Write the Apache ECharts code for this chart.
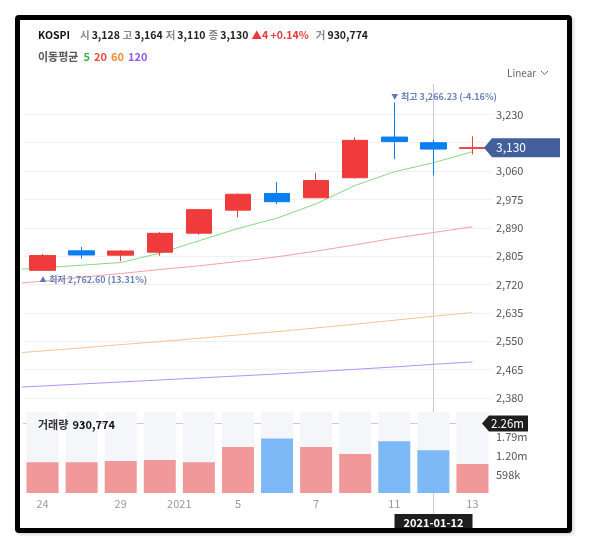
<!DOCTYPE html>
<html>
<head>
<meta charset="utf-8">
<script src="https://cdn.jsdelivr.net/npm/echarts@6/dist/echarts.min.js"></script>
<style>
  body { margin: 0; background: #fff; }
  #chart { position: absolute; left: 0; top: 0; width: 589px; height: 549px; }
  #frame { position: absolute; left: 15px; top: 15px; width: 547px; height: 508px;
           border: 5px solid #000; border-radius: 4px; pointer-events: none;
           box-shadow: 2px 2px 3px rgba(0,0,0,0.15); }
</style>
</head>
<body>
<div id="chart"></div>
<div id="frame"></div>
<script>
// daily candles (KOSPI)
const dates = ['2020-12-24', '2020-12-28', '2020-12-29', '2020-12-30', '2021-01-04', '2021-01-05',
               '2021-01-06', '2021-01-07', '2021-01-08', '2021-01-11', '2021-01-12', '2021-01-13'];
const openVals  = [2762.60, 2821, 2808, 2817, 2874, 2943, 2993, 2980, 3040, 3162, 3145, 3128];
const closeVals = [2806.86, 2808.60, 2820.51, 2873.47, 2944.45, 2990.57, 2968.21, 3031.68, 3152.18, 3148.45, 3125.95, 3130.30];
const lowVals   = [2762.60, 2798, 2790, 2807, 2869, 2921, 2961, 2980, 3038, 3096, 3047, 3110];
const highVals  = [2812, 2833, 2823, 2877, 2946, 2993, 3027, 3055, 3161, 3266.23, 3154, 3164];
const volumes   = [990000, 990000, 1025000, 1060000, 990000, 1480000, 1750000, 1480000, 1250000, 1665000, 1370000, 930774];
const prevClose = 2759.82; // close of the day before the first candle

// moving averages, first value is the day before the window (partly visible at left edge)
const ma5   = [2763, 2770, 2778, 2786, 2814, 2851, 2888, 2919, 2962, 3017, 3058, 3085, 3118];
const ma20  = [2720, 2730, 2742, 2753, 2765, 2776, 2789, 2803, 2820, 2839, 2859, 2876, 2893];
const ma60  = [2512, 2521, 2530, 2540, 2549, 2559, 2569, 2579, 2590, 2601, 2613, 2625, 2636];
const ma120 = [2410, 2416, 2422, 2428, 2434, 2440, 2446, 2452, 2459, 2466, 2473, 2481, 2488];

// x tick labels (position in candle index units)
const xTickPos  = [0, 2, 3.5, 5, 7, 9, 11];
const xTickText = ['24', '29', '2021', '5', '7', '11', '13'];

const crossDate = '2021-01-12';
const crossVolume = 2260000;

const RED = '#ef3b3b', BLUE = '#0b7ef0';
const fmt = (v, d) => v.toLocaleString('en-US', { minimumFractionDigits: d || 0, maximumFractionDigits: d || 0 });
const fmtVol = v => v >= 1e6 ? (v / 1e6).toFixed(2) + 'm' : Math.round(v / 1000) + 'k';

const n = dates.length - 1;
const lastClose = closeVals[n];
const change = lastClose - closeVals[n - 1];
const changePct = change / closeVals[n - 1] * 100;
const maxHigh = Math.max(...highVals), maxIdx = highVals.indexOf(maxHigh);
const minLow = Math.min(...lowVals), minIdx = lowVals.indexOf(minLow);

const candles = dates.map((d, i) => [openVals[i], closeVals[i], lowVals[i], highVals[i]]);
// volume colour follows close vs previous close
const volData = volumes.map((v, i) => ({
  value: v,
  itemStyle: { color: closeVals[i] >= (i ? closeVals[i - 1] : prevClose) ? '#f1989b' : '#7db8f7' }
}));
const maLine = arr => arr.map((v, i) => [i - 1, v]);

const FONT = '"Noto Sans CJK KR", "Noto Sans", sans-serif';
const chart = echarts.init(document.getElementById('chart'));

const rt = (size, color, extra) => Object.assign({ fontSize: size, color: color, fontFamily: FONT }, extra || {});

chart.setOption({
  animation: false,
  backgroundColor: '#fff',
  textStyle: { fontFamily: FONT },
  title: [{
    left: 38, top: 30, padding: 0,
    text: `{k|KOSPI}{g|시}{v|${fmt(openVals[n])}}{g|고}{v|${fmt(highVals[n])}}{g|저}{v|${fmt(lowVals[n])}}` +
          `{g|종}{v|${fmt(lastClose)}}{r|▲${fmt(change)} +${changePct.toFixed(2)}%}{g|거}{v|${fmt(volumes[n])}}`,
    textStyle: {
      rich: {
        k: rt(10.5, '#111', { fontWeight: 'bold', padding: [0, 10, 0, 0] }),
        g: rt(10.5, '#888', { padding: [0, 2, 0, 0] }),
        v: rt(10.5, '#222', { padding: [0, 3, 0, 0] }),
        r: rt(10.5, '#e8383d', { padding: [0, 7, 0, 0] })
      }
    }
  }, {
    left: 38, top: 51, padding: 0,
    text: '{g|이동평균}{a|5}{b|20}{c|60}{d|120}',
    textStyle: {
      rich: {
        g: rt(11, '#555', { padding: [0, 5, 0, 0] }),
        a: rt(11, '#3cb43c', { padding: [0, 4, 0, 0] }),
        b: rt(11, '#f04545', { padding: [0, 4, 0, 0] }),
        c: rt(11, '#f08c3c', { padding: [0, 4, 0, 0] }),
        d: rt(11, '#9a55ee')
      }
    }
  }, {
    left: 38, top: 416, padding: 0,
    text: `{g|거래량} {v|${fmt(volumes[n])}}`,
    textStyle: {
      rich: {
        g: rt(11, '#333'),
        v: rt(11, '#111', { fontWeight: 'bold' })
      }
    }
  }],
  grid: [
    { left: 23, right: 97, top: 86, height: 312 },
    { left: 23, right: 97, top: 412, height: 81 }
  ],
  xAxis: [
    { type: 'category', gridIndex: 0, data: dates, show: false },
    { type: 'value', gridIndex: 0, min: -0.5, max: 11.5, show: false, position: 'top' },
    { type: 'category', gridIndex: 1, data: dates, show: false, position: 'top' },
    {
      type: 'value', gridIndex: 1, position: 'bottom', min: -0.5, max: 11.5, interval: 0.5,
      axisLine: { show: false }, axisTick: { show: false }, splitLine: { show: false },
      axisLabel: {
        margin: 5, color: '#999', fontSize: 11, fontFamily: FONT,
        formatter: v => { const k = xTickPos.indexOf(v); return k < 0 ? '' : xTickText[k]; }
      }
    }
  ],
  yAxis: [
    {
      type: 'value', gridIndex: 0, position: 'right', min: 2380, max: 3315, interval: 85,
      axisLine: { show: false }, axisTick: { show: false },
      splitLine: { lineStyle: { color: '#f0f1f5' }, showMaxLine: false },
      axisLabel: { showMaxLabel: false, margin: 4, color: '#555', fontSize: 11, fontFamily: FONT, formatter: v => fmt(v) }
    },
    {
      type: 'value', gridIndex: 1, position: 'right', min: 0, max: 2600000, interval: 598000,
      axisLine: { show: false }, axisTick: { show: false }, splitLine: { show: false },
      axisLabel: {
        showMaxLabel: false, showMinLabel: false, margin: 4, color: '#555', fontSize: 11, fontFamily: FONT,
        formatter: v => (v > 0 && v < 2200000) ? fmtVol(v) : ''
      }
    }
  ],
  series: [
    {
      type: 'candlestick', xAxisIndex: 0, yAxisIndex: 0, data: candles, barWidth: 26, z: 3,
      itemStyle: { color: RED, color0: BLUE, borderColor: RED, borderColor0: BLUE, borderWidth: 1 },
      markPoint: {
        symbol: 'circle', symbolSize: 1, itemStyle: { color: 'rgba(0,0,0,0)' },
        label: {
          position: 'inside', align: 'left', verticalAlign: 'middle',
          rich: { t: rt(7, '#5f77b5'), s: rt(9, '#6a81bd', { fontWeight: 'bold' }) }
        },
        data: [
          { coord: [dates[maxIdx], maxHigh], label: { offset: [-3, -6],
            formatter: `{t|▼} {s|최고 ${fmt(maxHigh, 2)} (${((lastClose - maxHigh) / maxHigh * 100).toFixed(2)}%)}` } },
          { coord: [dates[minIdx], minLow], label: { offset: [-3, 9],
            formatter: `{t|▲} {s|최저 ${fmt(minLow, 2)} (${((lastClose - minLow) / minLow * 100).toFixed(2)}%)}` } }
        ]
      }
    },
    { type: 'line', name: 'MA5', xAxisIndex: 1, yAxisIndex: 0, data: maLine(ma5), showSymbol: false, clip: true, lineStyle: { width: 1, color: '#86d886' } },
    { type: 'line', name: 'MA20', xAxisIndex: 1, yAxisIndex: 0, data: maLine(ma20), showSymbol: false, clip: true, lineStyle: { width: 1, color: '#f7a0a0' } },
    { type: 'line', name: 'MA60', xAxisIndex: 1, yAxisIndex: 0, data: maLine(ma60), showSymbol: false, clip: true, lineStyle: { width: 1, color: '#f8c393' } },
    { type: 'line', name: 'MA120', xAxisIndex: 1, yAxisIndex: 0, data: maLine(ma120), showSymbol: false, clip: true, lineStyle: { width: 1, color: '#bb8ef8' } },
    {
      type: 'bar', xAxisIndex: 2, yAxisIndex: 1, data: volData, barWidth: 32,
      showBackground: true, backgroundStyle: { color: '#f5f6fa' }
    }
  ]
});

// crosshair, current price tag, "Linear" selector
const cx = Math.round(chart.convertToPixel({ xAxisIndex: 0 }, crossDate)) + 0.5;
const cy = Math.round(chart.convertToPixel({ yAxisIndex: 1 }, crossVolume)) + 0.5;
const py = chart.convertToPixel({ yAxisIndex: 0 }, lastClose);
const tag = (tip, left, right, y, h) => [[tip, y], [left, y - h / 2], [right, y - h / 2], [right, y + h / 2], [left, y + h / 2]];

chart.setOption({
  graphic: [
    { type: 'line', z: 1, shape: { x1: cx, y1: 84, x2: cx, y2: 514 }, style: { stroke: '#c6cce0', lineWidth: 1 } },
    { type: 'line', z: 1, shape: { x1: 23, y1: cy, x2: 484, y2: cy }, style: { stroke: '#c6cce0', lineWidth: 1 } },
    { type: 'polygon', z: 10, shape: { points: tag(482, 489, 528, cy, 16) }, style: { fill: '#1e1e1e' } },
    { type: 'text', z: 11, x: 491, y: cy, style: { text: fmtVol(crossVolume), fill: '#fff', font: '11.5px ' + FONT, verticalAlign: 'middle' } },
    { type: 'rect', z: 10, shape: { x: cx - 39, y: 514, width: 78, height: 18 }, style: { fill: '#1e1e1e' } },
    { type: 'text', z: 11, x: cx, y: 523, style: { text: crossDate, fill: '#fff', font: 'bold 11px ' + FONT, align: 'center', verticalAlign: 'middle' } },
    { type: 'polygon', z: 10, shape: { points: tag(484, 492, 560, py, 19) }, style: { fill: '#43609c' } },
    { type: 'text', z: 11, x: 496, y: py, style: { text: fmt(lastClose), fill: '#fff', font: '12px ' + FONT, verticalAlign: 'middle' } },
    { type: 'text', x: 507, y: 73, style: { text: 'Linear', fill: '#666', font: '10px ' + FONT, verticalAlign: 'middle' } },
    { type: 'polyline', shape: { points: [[541, 71], [544.5, 74.5], [548, 71]] }, style: { stroke: '#666', lineWidth: 1 } }
  ]
});
</script>
</body>
</html>
